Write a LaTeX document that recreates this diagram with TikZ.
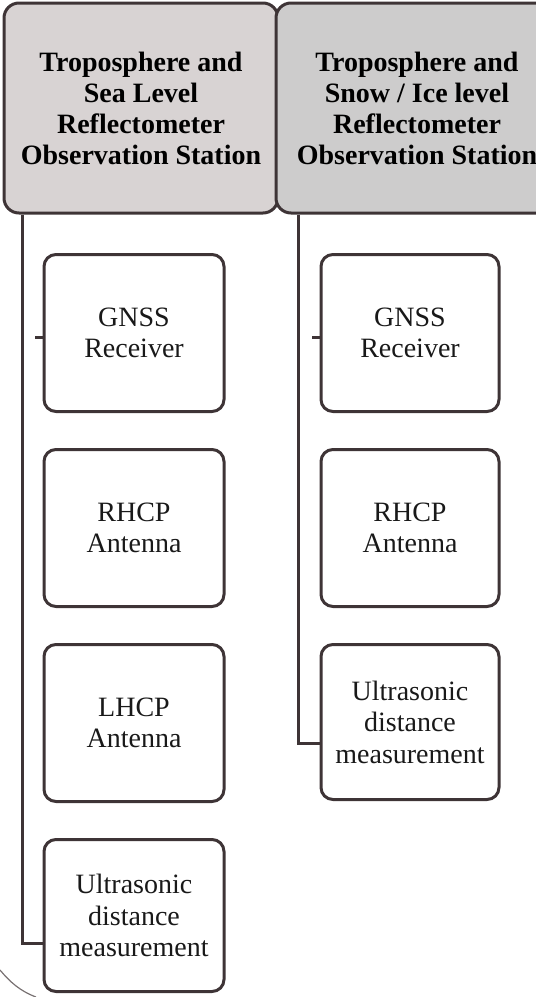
\documentclass[tikz,border=0pt]{standalone}
\usepackage{fontspec}
\setmainfont{Liberation Serif}
\usetikzlibrary{positioning}
\definecolor{edge}{RGB}{62,52,54}
\definecolor{seagray}{RGB}{216,211,211}
\definecolor{icegray}{RGB}{205,204,204}
\tikzset{
  station/.style={
    draw=edge, line width=3pt, rounded corners=15pt,
    minimum width=274pt, minimum height=210pt,
    align=center, font=\bfseries\fontsize{28}{31}\selectfont
  },
  part/.style={
    draw=edge, line width=3pt, fill=white, rounded corners=12pt,
    minimum width=180pt, minimum height=157pt,
    align=center, text=black!90, font=\fontsize{28}{31.5}\selectfont
  },
  trunk/.style={draw=edge, line width=3pt}
}
\begin{document}
\begin{tikzpicture}[x=1pt,y=-1pt]
    \useasboundingbox (0,0) rectangle (536,997);
    \clip (0,0) rectangle (536,997);
    % the two stations
    \node[station, fill=seagray] (sea) at (141,108)
      {Troposphere and\\Sea Level\\Reflectometer\\Observation Station};
    \node[station, fill=icegray, minimum width=282pt] (ice) at (417,108)
      {Troposphere and\\Snow / Ice level\\Reflectometer\\Observation Station};
    % sea level parts
    \node[part] (gnss1) at (134,333) {GNSS\\Receiver};
    \node[part, below=35pt of gnss1] (rhcp1) {RHCP\\Antenna};
    \node[part, below=35pt of rhcp1] (lhcp1) {LHCP\\Antenna};
    \node[part, below=35pt of lhcp1, minimum height=152pt] (sonic1)
      {Ultrasonic\\distance\\measurement};
    % snow / ice parts
    \node[part, minimum width=178pt] (gnss2) at (410,333) {GNSS\\Receiver};
    \node[part, minimum width=178pt, below=35pt of gnss2] (rhcp2) {RHCP\\Antenna};
    \node[part, minimum width=178pt, below=35pt of rhcp2, minimum height=155pt] (sonic2)
      {Ultrasonic\\distance\\measurement};
    % trunks
    \draw[trunk] ([xshift=20pt]sea.south west) |- ([yshift=-28pt]sonic1.west);
    \draw[trunk] ([xshift=24pt]ice.south west) |- ([yshift=-21pt]sonic2.west);
    \draw[trunk] ([yshift=-4pt]gnss1.west) -- ++(-8,0);
    \draw[trunk] ([yshift=-4pt]gnss2.west) -- ++(-8,0);
    % edge of the outer frame
    \draw[edge!70, line width=1.2pt] (0,970) .. controls (10,982) and (20,991) .. (36,997);
\end{tikzpicture}
\end{document}
